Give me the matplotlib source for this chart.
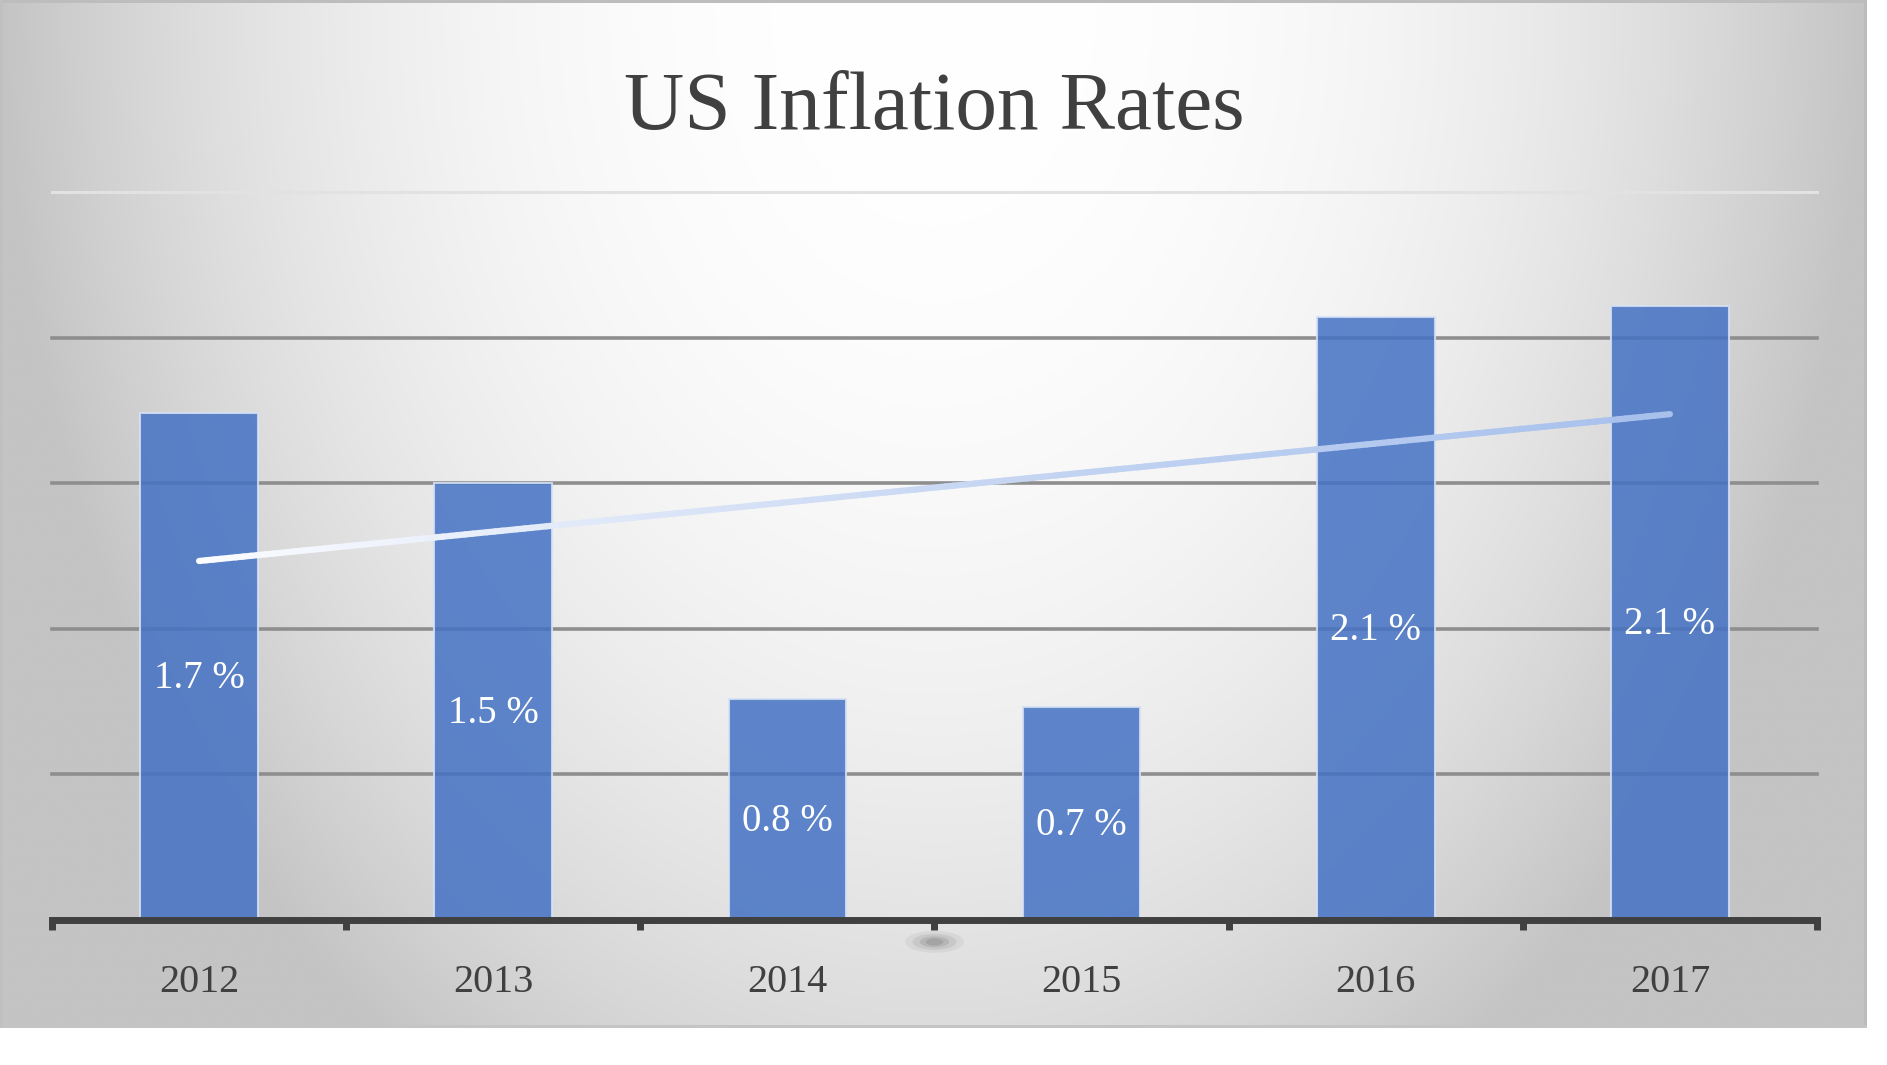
import numpy as np
import matplotlib
matplotlib.use("Agg")
import matplotlib.pyplot as plt
from matplotlib.collections import LineCollection
from matplotlib.patches import Ellipse, Rectangle
from matplotlib.colors import LinearSegmentedColormap

# ---- data ----
years = ["2012", "2013", "2014", "2015", "2016", "2017"]
inflation = [1.74, 1.50, 0.76, 0.73, 2.07, 2.11]
title = "US Inflation Rates"
y_ticks = [0.0, 0.5, 1.0, 1.5, 2.0, 2.5]

W, H = 1887, 1065
fig = plt.figure(figsize=(W / 100, H / 100), dpi=100)
fig.patch.set_facecolor("white")

SERIF = ["Liberation Serif", "DejaVu Serif"]

# ---- background gradient box ----
box_r = 1867 / W
box_b = 1 - 1028 / H
bg = fig.add_axes([0, box_b, box_r, 1 - box_b])
bg.set_axis_off()
nx, ny = 600, 330
u = np.linspace(0, 1, nx)[None, :]
v = np.linspace(0, 1, ny)[:, None]
d = np.sqrt(((u - 0.5) / 0.5) ** 2 + (v / 1.25) ** 2)
f = np.clip(d, 0, 1) ** 2.34
img = 255 - 59 * f
img = np.dstack([img, img, img]) / 255.0
bg.imshow(img, extent=[0, 1, 0, 1], aspect="auto", origin="upper", interpolation="bilinear")
bg.set_xlim(0, 1)
bg.set_ylim(0, 1)
# borders
bg.add_patch(Rectangle((0, 1 - 3 / 1028), 1, 3 / 1028, color="#bdbdbd", lw=0))
bg.add_patch(Rectangle((1 - 3 / 1867, 0), 3 / 1867, 1, color="#bcbcbc", lw=0))
bg.add_patch(Rectangle((0, 0), 1, 3 / 1028, color="#c4c4c4", lw=0))
bg.add_patch(Rectangle((0, 0), 3 / 1867, 1, color="#c0c0c0", lw=0))

# ---- title ----
fig.text(934 / W, 1 - 129 / H, title, ha="center", va="baseline",
         fontsize=60, color="#404040", family=SERIF)

# ---- main axes ----
left = 52 / W
bottom = 1 - 920 / H
width = (1817 - 52) / W
height = (920 - 192) / H
ax = fig.add_axes([left, bottom, width, height])
ax.patch.set_alpha(0)

x = np.arange(len(years))
ax.set_xlim(-0.5, len(years) - 0.5)
ax.set_ylim(0, 2.5)

ax.set_yticks(y_ticks)
ax.yaxis.grid(True, color="#8e8e8e", linewidth=2.6, zorder=0)
ax.set_axisbelow(True)
glines = ax.get_ygridlines()
for gl in glines:
    gl.set_clip_on(False)
glines[-1].set_color("#e2e2e2")
glines[-1].set_linewidth(2.2)
ax.tick_params(axis="y", left=False, labelleft=False)

bars = ax.bar(x, inflation, width=0.4, color="#4472C4", alpha=0.85,
              edgecolor="#d6e2f5", linewidth=1.5, zorder=2)

for xi, val in zip(x, inflation):
    ax.annotate(f"{val:.1f} %", (xi, val / 2), xytext=(0, -15.5),
                textcoords="offset points", ha="center", va="baseline",
                fontsize=28, color="white", family=SERIF, zorder=5)

# trendline (linear fit)
coef = np.polyfit(x, inflation, 1)
tx = np.linspace(x[0], x[-1], 200)
ty = np.polyval(coef, tx)
pts = np.column_stack([tx, ty]).reshape(-1, 1, 2)
segs = np.concatenate([pts[:-1], pts[1:]], axis=1)
cmap = LinearSegmentedColormap.from_list("tr", ["#fbfcff", "#c9d8f3", "#a7c0ec"])
lc = LineCollection(segs, cmap=cmap, linewidths=4.5, capstyle="round", zorder=4)
lc.set_array(np.linspace(0, 1, len(segs)))
ax.add_collection(lc)

# x axis
for s in ["left", "right", "top"]:
    ax.spines[s].set_visible(False)
ax.spines["bottom"].set_color("#404040")
ax.spines["bottom"].set_linewidth(5)
ax.spines["bottom"].set_zorder(6)
ax.set_xticks(x)
ax.set_xticklabels(years, family=SERIF, fontsize=29, color="#404040")
ax.set_xticks(np.arange(-0.5, len(years), 1.0), minor=True)
ax.tick_params(axis="x", which="major", length=0, pad=32)
ax.tick_params(axis="x", which="minor", length=7.5, width=5, color="#404040", direction="out")

# soft shadow under middle tick
for w_, h_, a_ in [(0.20, 0.075, 0.07), (0.15, 0.055, 0.10), (0.10, 0.038, 0.14), (0.06, 0.025, 0.16)]:
    ax.add_patch(Ellipse((2.5, -0.075), w_, h_, color="#4a4a4a",
                         alpha=a_, lw=0, clip_on=False, zorder=1))

fig.savefig("out.png", dpi=100, facecolor=fig.get_facecolor())
